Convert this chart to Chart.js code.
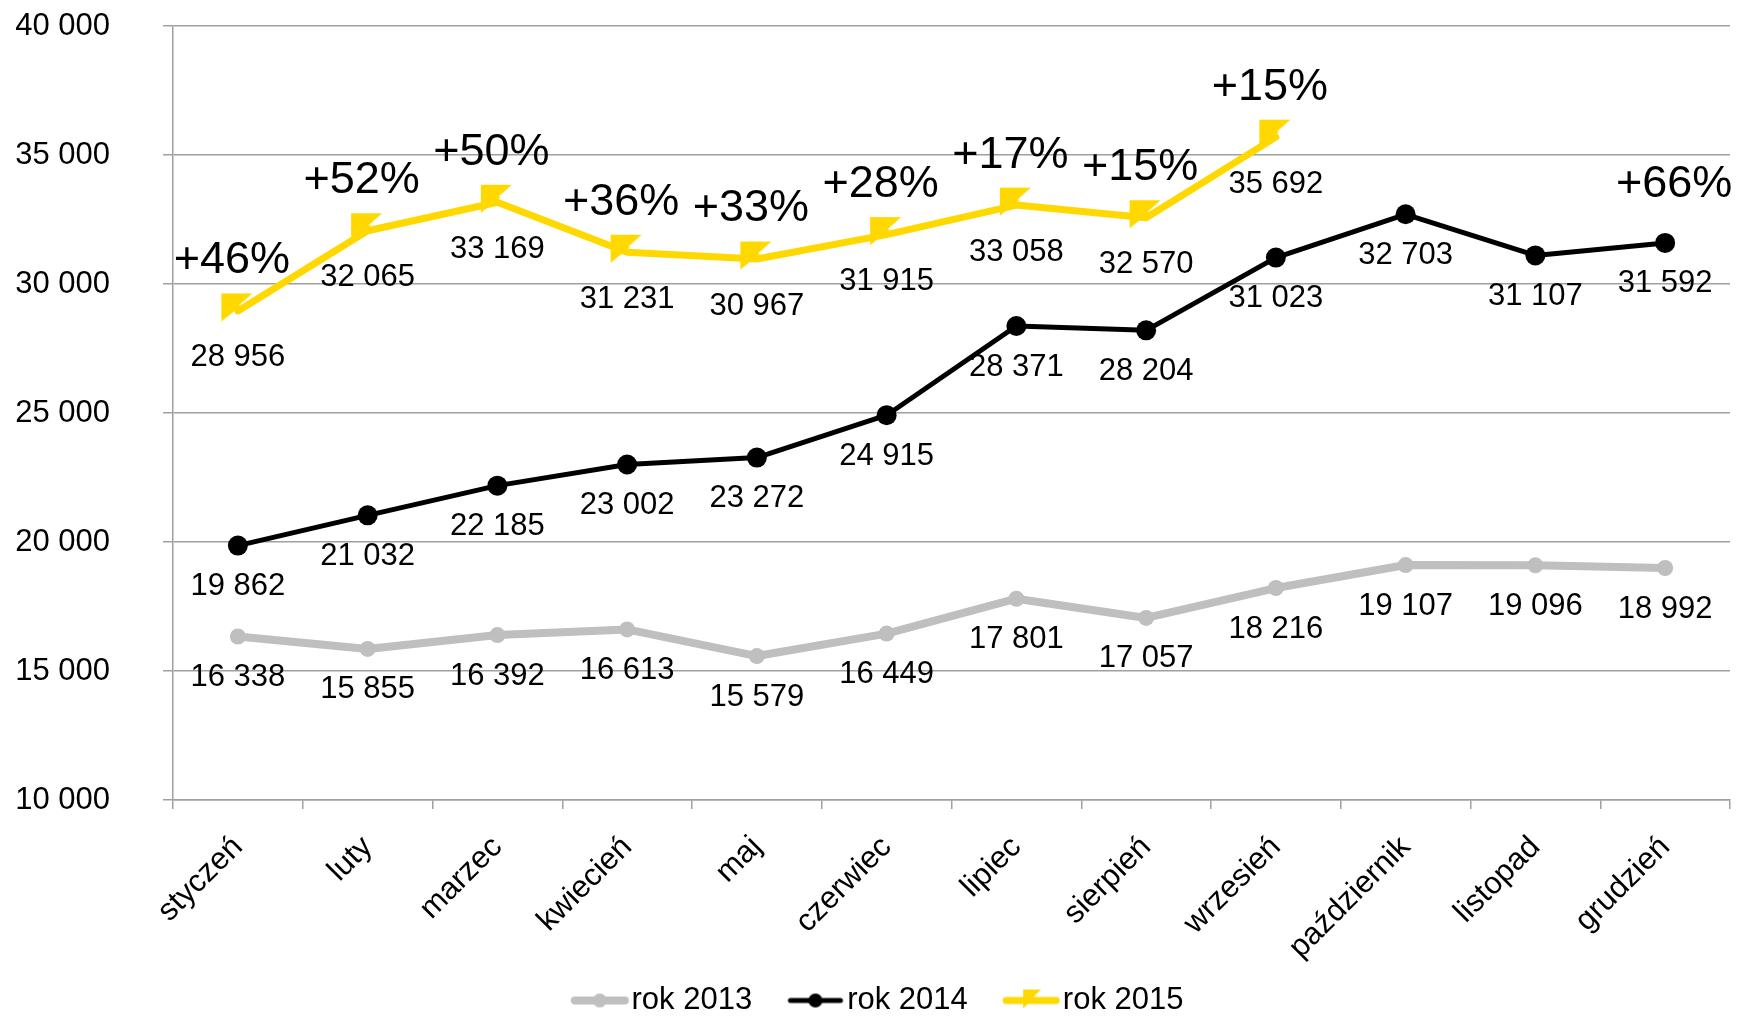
<!DOCTYPE html>
<html>
<head>
<meta charset="utf-8">
<script src="https://cdn.jsdelivr.net/npm/chart.js@4.4.1/dist/chart.umd.min.js"></script>
<style>
  html, body { margin: 0; padding: 0; background: #fff; }
  #wrap { width: 1741px; height: 1017px; }
</style>
</head>
<body>
<div id="wrap"><canvas id="chart" width="1741" height="1017"></canvas></div>
<script>
const months = ['styczeń', 'luty', 'marzec', 'kwiecień', 'maj', 'czerwiec', 'lipiec', 'sierpień', 'wrzesień', 'październik', 'listopad', 'grudzień'];
const rok2013 = [16338, 15855, 16392, 16613, 15579, 16449, 17801, 17057, 18216, 19107, 19096, 18992];
const rok2014 = [19862, 21032, 22185, 23002, 23272, 24915, 28371, 28204, 31023, 32703, 31107, 31592];
const rok2015 = [28956, 32065, 33169, 31231, 30967, 31915, 33058, 32570, 35692, null, null, null];
const growth = ['+46%', '+52%', '+50%', '+36%', '+33%', '+28%', '+17%', '+15%', '+15%', null, null, '+66%'];
const yTicks = [10000, 15000, 20000, 25000, 30000, 35000, 40000];

const FONT = "'Liberation Sans', Arial, sans-serif";
const GRAY = '#BFBFBF';
const YELLOW = '#FFD800';
const GRID = '#A0A0A0';

const fmt = v => String(v).replace(/\B(?=(\d{3})+(?!\d))/g, ' ');

// yellow "bolt" marker, drawn on its own canvas so the library can use it as pointStyle
function boltMarker(w, h) {
  const c = document.createElement('canvas');
  c.width = w + 4;
  c.height = h + 8;
  const g = c.getContext('2d');
  g.fillStyle = YELLOW;
  g.beginPath();
  g.moveTo(1, 1);
  g.lineTo(w + 1, 1);
  g.lineTo(w * 0.6, h * 0.45);
  g.lineTo(w * 0.68, h * 0.45);
  g.lineTo(1, h);
  g.closePath();
  g.fill();
  return c;
}

function legendIcon(color, lw, kind) {
  const c = document.createElement('canvas');
  c.width = 97;
  c.height = 34;
  const g = c.getContext('2d');
  g.strokeStyle = color;
  g.fillStyle = color;
  g.lineWidth = lw;
  g.lineCap = 'round';
  g.beginPath();
  g.moveTo(42, 17);
  g.lineTo(92, 17);
  g.stroke();
  if (kind === 'circle') {
    g.beginPath();
    g.arc(67, 17, 7, 0, Math.PI * 2);
    g.fill();
  } else {
    g.drawImage(boltMarker(18, 20), 58, 5);
  }
  return c;
}

const valueLabels = {
  id: 'valueLabels',
  afterDatasetsDraw(chart) {
    const ctx = chart.ctx;
    ctx.save();
    ctx.fillStyle = '#000';
    ctx.textAlign = 'center';
    ctx.textBaseline = 'middle';
    ctx.font = '31px ' + FONT;
    chart.data.datasets.forEach((ds, di) => {
      const meta = chart.getDatasetMeta(di);
      meta.data.forEach((pt, i) => {
        if (ds.data[i] == null) return;
        ctx.fillText(fmt(ds.data[i]), pt.x, pt.y + ds.labelGap);
      });
    });

    ctx.font = '45px ' + FONT;
    const m14 = chart.getDatasetMeta(1);
    const m15 = chart.getDatasetMeta(2);
    growth.forEach((txt, i) => {
      if (!txt) return;
      const on15 = rok2015[i] != null;
      const pt = on15 ? m15.data[i] : m14.data[i];
      const w = ctx.measureText(txt).width;
      const x = Math.min(pt.x + (on15 ? -6 : 9), chart.width - 5 - w / 2);
      ctx.fillText(txt, x, pt.y - (on15 ? 50 : 58));
    });
    ctx.restore();
  }
};

const icons = [legendIcon(GRAY, 8, 'circle'), legendIcon('#000', 5, 'circle'), legendIcon(YELLOW, 7, 'bolt')];

new Chart(document.getElementById('chart'), {
  type: 'line',
  data: {
    labels: months,
    datasets: [
      {
        label: 'rok 2013',
        data: rok2013,
        borderColor: GRAY,
        backgroundColor: GRAY,
        borderWidth: 8,
        pointRadius: 8,
        pointBorderWidth: 0,
        order: 3,
        labelGap: 41
      },
      {
        label: 'rok 2014',
        data: rok2014,
        borderColor: '#000',
        backgroundColor: '#000',
        borderWidth: 5,
        pointRadius: 10,
        pointBorderWidth: 0,
        order: 2,
        labelGap: 41
      },
      {
        label: 'rok 2015',
        data: rok2015,
        borderColor: YELLOW,
        backgroundColor: YELLOW,
        borderWidth: 7,
        pointStyle: boltMarker(31, 29),
        pointRadius: 16,
        order: 1,
        labelGap: 47
      }
    ]
  },
  options: {
    responsive: false,
    animation: false,
    devicePixelRatio: 1,
    events: [],
    layout: { autoPadding: false, padding: { top: 26, right: 11, left: 0, bottom: -9 } },
    elements: {
      line: { tension: 0, borderCapStyle: 'round', borderJoinStyle: 'round' }
    },
    scales: {
      x: {
        offset: true,
        grid: { drawOnChartArea: false, offset: true, color: GRID, tickLength: 9, lineWidth: 1.5 },
        border: { color: GRID, width: 1.5 },
        ticks: {
          color: '#000',
          font: { size: 31, family: FONT },
          minRotation: 45,
          maxRotation: 45,
          autoSkip: false,
          padding: 20
        },
        afterFit: s => {
          s.height = 175;
          s.paddingLeft = 0;
          s.paddingRight = 0;
        }
      },
      y: {
        min: 10000,
        max: 40000,
        afterBuildTicks: s => { s.ticks = yTicks.map(v => ({ value: v })); },
        grid: { color: GRID, tickLength: 10, lineWidth: 1.5 },
        border: { color: GRID, width: 1.5 },
        ticks: {
          color: '#000',
          font: { size: 31, family: FONT },
          padding: 53,
          callback: v => fmt(v)
        },
        afterFit: s => {
          s.width = 173;
          s.paddingTop = 0;
          s.paddingBottom = 0;
        }
      }
    },
    plugins: {
      tooltip: { enabled: false },
      legend: {
        position: 'bottom',
        labels: {
          usePointStyle: true,
          pointStyleWidth: 69.5,
          padding: 10,
          color: '#000',
          font: { size: 31, family: FONT },
          generateLabels: chart => chart.data.datasets.map((ds, i) => ({
            text: ds.label,
            datasetIndex: i,
            pointStyle: icons[i],
            fontColor: '#000',
            hidden: false
          }))
        }
      }
    }
  },
  plugins: [valueLabels]
});
</script>
</body>
</html>
